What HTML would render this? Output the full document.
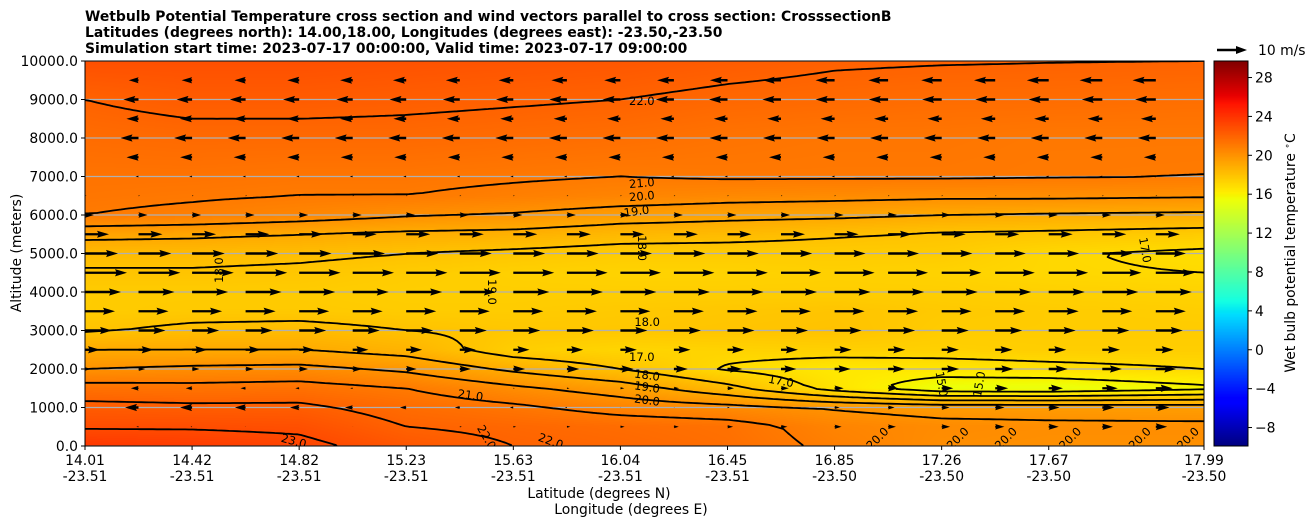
<!DOCTYPE html>
<html><head><meta charset="utf-8">
<style>
body{margin:0;background:#fff;width:1311px;height:526px;overflow:hidden;font-family:"DejaVu Sans","Liberation Sans",sans-serif;}
#wrap{position:relative;width:1311px;height:526px;}
canvas{position:absolute;}
svg{position:absolute;left:0;top:0;font-family:"DejaVu Sans","Liberation Sans",sans-serif;}
</style></head>
<body>
<div id="wrap">
<canvas id="heat" width="1119" height="385" style="left:85px;top:61px"></canvas>
<canvas id="cbar" width="34" height="385" style="left:1214px;top:61px"></canvas>
<svg id="svg" width="1311" height="526">
<defs><clipPath id="clip"><rect x="85" y="61" width="1119" height="385"/></clipPath></defs>
<g font-weight="bold" font-size="13.9" fill="#000">
<text x="85" y="21">Wetbulb Potential Temperature cross section and wind vectors parallel to cross section: CrosssectionB</text>
<text x="85" y="37">Latitudes (degrees north): 14.00,18.00, Longitudes (degrees east): -23.50,-23.50</text>
<text x="85" y="53">Simulation start time: 2023-07-17 00:00:00, Valid time: 2023-07-17 09:00:00</text>
</g>
<g id="grid" clip-path="url(#clip)"></g>
<g id="contours" clip-path="url(#clip)"></g>
<g id="clabels" clip-path="url(#clip)" font-size="11.5" fill="#000"></g>
<g id="arrows" clip-path="url(#clip)"></g>
<rect x="85" y="61" width="1119" height="385" fill="none" stroke="#000" stroke-width="1"/>
<g id="yaxis" font-size="13.9"></g>
<g id="xaxis" font-size="13.9"></g>
<text x="21" y="253" font-size="13.9" text-anchor="middle" transform="rotate(-90 21 253)">Altitude (meters)</text>
<text x="599" y="498" font-size="13.9" text-anchor="middle">Latitude (degrees N)</text>
<text x="631" y="514" font-size="13.9" text-anchor="middle">Longitude (degrees E)</text>
<rect x="1214" y="61" width="34" height="385" fill="none" stroke="#000" stroke-width="1"/>
<g id="cbticks" font-size="13.9"></g>
<text x="1295" y="253" font-size="13.9" text-anchor="middle" transform="rotate(-90 1295 253)">Wet bulb potential temperature <tspan dy="-5" font-size="9">∘</tspan><tspan dy="5">C</tspan></text>
<g>
<polygon points="1217,48.8 1236,48.8 1236,46 1247,50 1236,54 1236,51.2 1217,51.2" fill="#000"/>
<text x="1258" y="55" font-size="13.9">10 m/s</text>
</g>
</svg>
</div>
<script>
// ---- data ----
const levels = [0,500,1000,1500,2000,2500,3000,3500,4000,4500,5000,5500,6000,6500,7000,8000,9000,10000];
const colIndex = [0,20,40,60,80,100,120,140,160,180,209];
const latLabels = ["14.01","14.42","14.82","15.23","15.63","16.04","16.45","16.85","17.26","17.67","17.99"];
const lonLabels = ["-23.51","-23.51","-23.51","-23.51","-23.51","-23.51","-23.51","-23.50","-23.50","-23.50","-23.50"];
const yTicks = [0,1000,2000,3000,4000,5000,6000,7000,8000,9000,10000];
const cbTicks = [-8,-4,0,4,8,12,16,20,24,28];
const t1401 = [23.8,22.9,22.3,21.4,20.0,19.0,17.9,17.6,17.6,17.9,18.3,19.3,21.0,21.2,21.3,21.6,22.0,22.8];
const t1442 = [23.6,22.9,22.2,21.3,20.2,19.0,18.2,17.7,17.6,17.9,18.3,19.2,20.8,21.1,21.3,21.7,22.3,22.8];
const t1482 = [23.3,22.8,22.2,21.4,20.3,19.0,18.3,17.7,17.6,17.8,18.2,19.0,20.5,21.0,21.2,21.7,22.3,22.8];
const t1523 = [22.5,22.0,21.6,21.0,19.8,18.6,18.0,17.6,17.5,17.6,18.0,18.8,20.1,21.0,21.2,21.7,22.2,22.7];
const t1563 = [22.0,21.8,21.2,20.2,18.8,17.5,17.8,17.6,17.5,17.4,17.8,18.7,19.9,20.8,21.1,21.6,22.1,22.6];
const t1604 = [21.8,21.6,20.6,19.5,18.0,17.2,17.8,17.7,17.5,17.3,17.6,18.4,19.5,20.6,21.0,21.5,22.0,22.5];
const t1645 = [21.5,21.4,20.3,18.3,16.9,17.3,17.9,17.8,17.5,17.3,17.6,18.3,19.3,20.4,21.1,21.3,21.8,22.3];
const t1685 = [20.8,20.6,19.9,16.6,16.4,17.4,18.0,17.9,17.5,17.4,17.6,18.1,19.2,20.3,21.1,21.2,21.7,22.1];
const t1726 = [20.2,20.3,19.6,15.3,16.5,17.4,17.6,17.7,17.5,17.3,17.6,17.9,19.0,20.2,21.1,21.2,21.6,22.05];
const t1767 = [20.1,20.2,19.6,15.2,16.7,17.5,17.6,17.6,17.4,17.1,17.1,17.8,18.9,20.2,21.05,21.1,21.6,22.02];
const t1799 = [20.1,20.2,19.5,15.8,17.0,17.5,17.6,17.5,17.3,17.0,16.8,17.6,18.8,20.1,21.0,21.1,21.5,22.0];
const tempCols = [t1401,t1442,t1482,t1523,t1563,t1604,t1645,t1685,t1726,t1767,t1799];
const contourLevels = [15,16,17,18,19,20,21,22,23];
// wind rows (m/s, along-section), western half and eastern half
const windAlt = [500,1000,1500,2000,2500,3000,3500,4000,4500,5000,5500,6000,6500,7000,7500,8000,8500,9000,9500];
const uWest = [-1,-5,-3,2,5,9,10,12,14,11,8,3,0.5,-1,-4,-6,-4,-5,-3];
const uEast = [4,5,6,7,6,9,10,12,13,10,8,3,0.5,-1,-4,-6,-5,-7,-8];
const arrowCols = [0,10,20,30,40,50,60,70,80,90,100,110,120,130,140,150,160,170,180,190,200];
const clabText = ["22.0","21.0","20.0","19.0","18.0","18.0","19.0","17.0","18.0","17.0","18.0","19.0","20.0","21.0","17.0","15.0","15.0","23.0","22.0","22.0","20.0","20.0","20.0","20.0","20.0","20.0"];
const clabIdx  = [104,104,104,103,104,25,76,198,105,104,105,105,105,72,130,160,167,39,75,87,148,163,172,184,197,206];
const clabAlt  = [8960,6830,6490,6100,5140,4570,4000,5090,3220,2310,1840,1530,1190,1320,1690,1610,1610,130,230,130,200,200,200,200,200,200];
const clabRot  = [0,-5,-5,-8,90,-90,90,80,0,0,8,8,8,8,10,80,-80,15,60,20,-45,-45,-45,-45,-45,-45];

// ---- axes ----
const X0=85, W=1119, Y0=61, H=385, NIDX=209, VMIN=-9.9, VMAX=29.7;
const xs = i => X0 + i*W/NIDX;
const ys = a => Y0 + H - a*H/10000;
const NS="http://www.w3.org/2000/svg";
function mk(tag, attrs, parent){const e=document.createElementNS(NS,tag);for(const k in attrs)e.setAttribute(k,attrs[k]);parent.appendChild(e);return e;}

function temp(idx, alt){
  let c=0; while(c<colIndex.length-2 && idx>colIndex[c+1]) c++;
  let fx=(idx-colIndex[c])/(colIndex[c+1]-colIndex[c]); fx=Math.max(0,Math.min(1,fx));
  let r=0; while(r<levels.length-2 && alt>levels[r+1]) r++;
  let fy=(alt-levels[r])/(levels[r+1]-levels[r]); fy=Math.max(0,Math.min(1,fy));
  const a=tempCols[c], b=tempCols[c+1];
  const v0=a[r]*(1-fx)+b[r]*fx, v1=a[r+1]*(1-fx)+b[r+1]*fx;
  return v0*(1-fy)+v1*fy;
}
function seg(t,pts){for(let i=0;i<pts.length-1;i++){if(t<=pts[i+1][0]){const f=(t-pts[i][0])/(pts[i+1][0]-pts[i][0]);return pts[i][1]+f*(pts[i+1][1]-pts[i][1]);}}return pts[pts.length-1][1];}
function jet(t){t=Math.max(0,Math.min(1,t));
  return [seg(t,[[0,0],[0.35,0],[0.66,1],[0.89,1],[1,0.5]]),seg(t,[[0,0],[0.125,0],[0.375,1],[0.64,1],[0.91,0],[1,0]]),seg(t,[[0,0.5],[0.11,1],[0.34,1],[0.65,0],[1,0]])].map(v=>Math.round(v*255));}
const norm = v => (v-VMIN)/(VMAX-VMIN);

// heatmap
(function(){const cv=document.getElementById('heat'),ctx=cv.getContext('2d'),img=ctx.createImageData(W,H);
for(let py=0;py<H;py++){const alt=(H-py-0.5)*10000/H;for(let px=0;px<W;px++){const idx=(px+0.5)*NIDX/W;const c=jet(norm(temp(idx,alt)));const o=(py*W+px)*4;img.data[o]=c[0];img.data[o+1]=c[1];img.data[o+2]=c[2];img.data[o+3]=255;}}
ctx.putImageData(img,0,0);})();
// colorbar
(function(){const cv=document.getElementById('cbar'),ctx=cv.getContext('2d');for(let py=0;py<H;py++){const v=VMAX-(py+0.5)*(VMAX-VMIN)/H;const c=jet(norm(v));ctx.fillStyle=`rgb(${c[0]},${c[1]},${c[2]})`;ctx.fillRect(0,py,34,1);}})();

const svg=document.getElementById('svg');
// grid lines
const grid=document.getElementById('grid');
yTicks.forEach(v=>{const l=mk('line',{x1:X0,x2:X0+W,y1:ys(v),y2:ys(v),stroke:'#b0b0b0','stroke-width':1.2},grid);

});

// contours via marching squares
(function(){const g=document.getElementById('contours');const step=4;const nx=Math.ceil(W/step),ny=Math.ceil(H/step);
const F=[];for(let j=0;j<=ny;j++){F[j]=[];const alt=(H-j*step)*10000/H;for(let i=0;i<=nx;i++){F[j][i]=temp(Math.min(NIDX,i*step*NIDX/W),Math.max(0,alt));}}
contourLevels.forEach(L=>{let d='';
for(let j=0;j<ny;j++)for(let i=0;i<nx;i++){
 const a=F[j][i],b=F[j][i+1],c=F[j+1][i+1],e=F[j+1][i];
 const x=X0+i*step,y=Y0+j*step;
 const P=[];
 const ip=(v1,v2)=>(L-v1)/(v2-v1);
 if((a<L)!==(b<L))P.push([x+step*ip(a,b),y]);
 if((b<L)!==(c<L))P.push([x+step,y+step*ip(b,c)]);
 if((e<L)!==(c<L))P.push([x+step*ip(e,c),y+step]);
 if((a<L)!==(e<L))P.push([x,y+step*ip(a,e)]);
 for(let k=0;k+1<P.length;k+=2)d+=`M${P[k][0].toFixed(1)},${P[k][1].toFixed(1)}L${P[k+1][0].toFixed(1)},${P[k+1][1].toFixed(1)}`;
}
const p=mk('path',{d:d,fill:'none',stroke:'#000','stroke-width':1.8,'stroke-linecap':'round'},g);

});})();

// contour labels
const cl=document.getElementById('clabels');
clabText.forEach((t,k)=>{const x=xs(clabIdx[k]),y=ys(clabAlt[k]);
const e=mk('text',{x:x,y:y+4,'text-anchor':'middle',transform:`rotate(${clabRot[k]} ${x} ${y})`},cl);e.textContent=t;

});

// wind arrows
const ag=document.getElementById('arrows');const PXPER=3,SW=2.4,HL=5*SW,HAL=4.5*SW,HW=1.5*SW;
windAlt.forEach((alt,r)=>{arrowCols.forEach(ci=>{
 const f=ci/NIDX; const u=uWest[r]*(1-f)+uEast[r]*f;
 let L=Math.abs(u)*PXPER; if(L<0.5)return;
 let s=1; if(L<HL){s=L/HL;}
 const sw=SW*s,hl=HL*s,hal=HAL*s,hw=HW*s;
 const pts=[[0,-sw/2],[L-hal,-sw/2],[L-hl,-hw],[L,0],[L-hl,hw],[L-hal,sw/2],[0,sw/2]];
 const x0=xs(ci),y0=ys(alt),dir=u<0?-1:1;
 const p=mk('polygon',{points:pts.map(q=>`${(x0+dir*q[0]).toFixed(1)},${(y0+q[1]).toFixed(1)}`).join(' '),fill:'#000'},ag);
 
 
});});

// y axis
const ya=document.getElementById('yaxis');
yTicks.forEach(v=>{const y=ys(v);mk('line',{x1:X0-4,x2:X0,y1:y,y2:y,stroke:'#000'},ya);
const t=mk('text',{x:X0-7,y:y+5,'text-anchor':'end'},ya);t.textContent=v.toFixed(1);

});
// x axis
const xa=document.getElementById('xaxis');
colIndex.forEach((ci,k)=>{const x=xs(ci);mk('line',{x1:x,x2:x,y1:Y0+H,y2:Y0+H+4,stroke:'#000'},xa);
const t=mk('text',{x:x,y:465,'text-anchor':'middle'},xa);t.textContent=latLabels[k];


const t2=mk('text',{x:x,y:481,'text-anchor':'middle'},xa);t2.textContent=lonLabels[k];

});
// colorbar ticks
const cb=document.getElementById('cbticks');
cbTicks.forEach(v=>{const y=Y0+H-(v-VMIN)/(VMAX-VMIN)*H;mk('line',{x1:1248,x2:1252,y1:y,y2:y,stroke:'#000'},cb);
const t=mk('text',{x:1255,y:y+5},cb);t.textContent=v<0?'\u2212'+Math.abs(v):String(v);

});
</script>
</body></html>
